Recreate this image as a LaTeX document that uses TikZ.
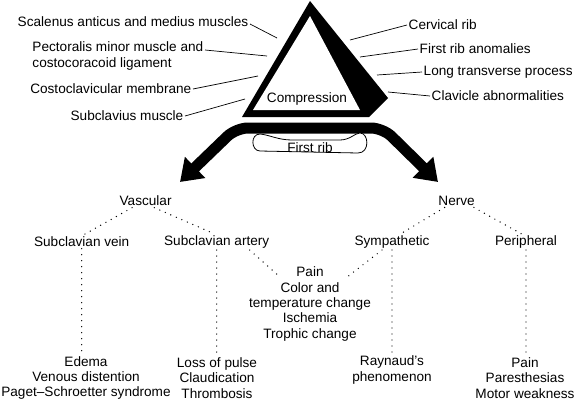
\documentclass[tikz,border=0pt]{standalone}
\usepackage{fontspec}
\setmainfont{Liberation Sans}
\usetikzlibrary{arrows.meta, calc}

\begin{document}
\begin{tikzpicture}[x=1pt, y=-1pt,
  lbl/.style={font=\fontsize{13.6}{15.4}\selectfont, inner sep=1.5pt},
  leader/.style={line width=0.7pt},
  dotline/.style={line width=1.4pt, line cap=round, dash pattern=on 0pt off 6pt},
  bigarrow/.style={line width=11pt, rounded corners=12pt,
    arrows={Triangle[length=21pt,width=28pt]-Triangle[length=21pt,width=28pt]}}]
  \useasboundingbox (0,0) rectangle (576,402);

  % Compression triangle
  \fill (310,1) -- (388,98) -- (369,117) -- (242,117) -- cycle;
  \fill[white] (310,16) -- (360,110) -- (253,110) -- cycle;
  \node[lbl] (comp) at (307,99) {Compression};

  % Split arrows and first rib
  \draw[bigarrow] (180,182) -- (236,128) -- (383,128) -- (438,182);
  \draw[line width=0.8pt, fill=white] (260,134) .. controls (270,135) and (278,140) .. (292,140)
    -- (340,140) .. controls (350,140) and (355,133) .. (360,133)
    .. controls (369,133) and (370,153) .. (358,153) -- (260,151)
    .. controls (251,151) and (250,134) .. (260,134) -- cycle;
  \node[lbl] (rib) at (310,148) {First rib};

  % Left causes
  \node[lbl, anchor=east] (scal) at (250,22) {Scalenus anticus and medius muscles};
  \node[lbl, anchor=east, align=left] (pect) at (205,56) {Pectoralis minor muscle and\\costocoracoid ligament};
  \node[lbl, anchor=east] (cost) at (193,89) {Costoclavicular membrane};
  \node[lbl, anchor=east] (subm) at (185,116) {Subclavius muscle};
  \coordinate (scalend) at (277,38);
  \coordinate (pectend) at (267,56);
  \coordinate (costend) at (258,76);
  \coordinate (submend) at (245,99);
  \draw[leader] ([yshift=-2pt]scal.east) -- (scalend);
  \draw[leader] ([yshift=6pt]pect.east) -- (pectend);
  \draw[leader] (cost.east) -- (costend);
  \draw[leader] (subm.east) -- (submend);

  % Right causes
  \node[lbl, anchor=west] (cerv) at (407,25) {Cervical rib};
  \node[lbl, anchor=west] (frib) at (418,49) {First rib anomalies};
  \node[lbl, anchor=west] (ltp) at (422,72) {Long transverse process};
  \node[lbl, anchor=west] (clav) at (430,96) {Clavicle abnormalities};
  \coordinate (cervend) at (350,40);
  \coordinate (fribend) at (360,57);
  \coordinate (ltpend) at (377,75);
  \coordinate (clavend) at (388,92);
  \draw[leader] (cerv.west) -- (cervend);
  \draw[leader] (frib.west) -- (fribend);
  \draw[leader] (ltp.west) -- (ltpend);
  \draw[leader] (clav.west) -- (clavend);

  % Vascular and nerve branches
  \node[lbl] (vasc) at (145.6,201) {Vascular};
  \node[lbl] (nerve) at (456.6,201) {Nerve};
  \node[lbl] (vein) at (81.7,242) {Subclavian vein};
  \node[lbl] (artery) at (216.7,242) {Subclavian artery};
  \node[lbl] (symp) at (392,242) {Sympathetic};
  \node[lbl] (periph) at (526,242) {Peripheral};
  \node[lbl, align=center] (common) at (310,304) {Pain\\Color and\\temperature change\\Ischemia\\Trophic change};
  \node[lbl, align=center] (edema) at (86,378) {Edema\\Venous distention\\Paget--Schroetter syndrome};
  \node[lbl, align=center] (pulse) at (217,378) {Loss of pulse\\Claudication\\Thrombosis};
  \node[lbl, align=center] (rayn) at (392,370) {Raynaud's\\phenomenon};
  \node[lbl, align=center] (motor) at (525,378) {Pain\\Paresthesias\\Motor weakness};

  \draw[dotline] ([xshift=-13.5pt]vasc.south) -- ([xshift=1pt]vein.north);
  \draw[dotline] ([xshift=8.7pt]vasc.south) -- ([xshift=-2pt]artery.north);
  \draw[dotline] ([xshift=-12pt]nerve.south) -- ([xshift=8.4pt]symp.north);
  \draw[dotline] ([xshift=17.3pt]nerve.south) -- ([xshift=-4.4pt]periph.north);
  \draw[dotline] ([xshift=33pt]artery.south) -- ($(common.north)+(-31,11)$);
  \draw[dotline] ([xshift=-10pt]symp.south) -- ($(common.north)+(37,12)$);
  \draw[dotline] (vein.south) -- (vein.south |- edema.north);
  \draw[dotline] (artery.south) -- (artery.south |- pulse.north);
  \draw[dotline] (symp.south) -- (symp.south |- rayn.north);
  \draw[dotline] (periph.south) -- (periph.south |- motor.north);
\end{tikzpicture}
\end{document}
